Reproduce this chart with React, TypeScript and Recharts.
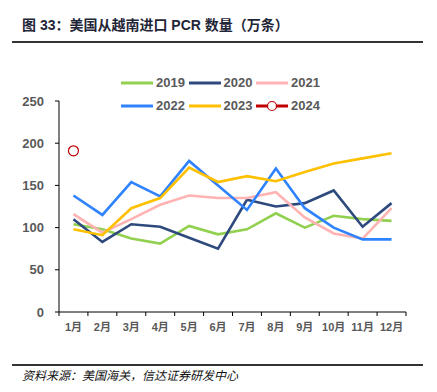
import React from 'react';
import { LineChart, Line, XAxis, YAxis } from 'recharts';

const months = ['1月', '2月', '3月', '4月', '5月', '6月', '7月', '8月', '9月', '10月', '11月', '12月'];
const s2019 = [104, 98, 87, 81, 102, 92, 98, 117, 100, 114, 110, 108];
const s2020 = [110, 83, 104, 101, 88, 75, 133, 125, 129, 144, 101, 129];
const s2021 = [116, 94, 110, 127, 138, 135, 135, 142, 112, 93, 87, 123];
const s2022 = [138, 115, 154, 137, 179, 150, 121, 170, 123, 100, 86, 86];
const s2023 = [98, 91, 123, 135, 171, 154, 161, 155, 166, 176, 182, 188];
const s2024 = [191, null, null, null, null, null, null, null, null, null, null, null];
const yTicks = [0, 50, 100, 150, 200, 250];

const seriesNames = ['2019', '2020', '2021', '2022', '2023', '2024'];
const seriesValues = [s2019, s2020, s2021, s2022, s2023, s2024];
const seriesColors = ['#92D050', '#2E4A7D', '#FFB3B3', '#2F83FF', '#FFC000', '#C00000'];

const data = months.map((m, i) => {
  const row: Record<string, any> = { month: m };
  seriesNames.forEach((n, k) => {
    row[n] = seriesValues[k][i];
  });
  return row;
});

const W = 437;
const H = 392;
const PLOT_LEFT = 59;
const PLOT_RIGHT = 406;
const BAND = (PLOT_RIGHT - PLOT_LEFT) / months.length;
const FONT = '"Liberation Sans", Arial, "Noto Sans CJK SC", sans-serif';
const GREY = '#595959';

const XTick = (props: any) => {
  const { x, y, payload, index } = props;
  const last = index === months.length - 1;
  return (
    <g>
      <line x1={x - BAND / 2} x2={x - BAND / 2} y1={y} y2={y + 4} stroke="#000" strokeWidth={1} />
      {last && <line x1={x + BAND / 2} x2={x + BAND / 2} y1={y} y2={y + 4} stroke="#000" strokeWidth={1} />}
      <text x={x} y={y + 19} textAnchor="middle" fontSize={11} fontWeight="bold" fill={GREY} fontFamily={FONT}>
        {payload.value}
      </text>
    </g>
  );
};

const legendRows = [
  [0, 1, 2],
  [3, 4, 5],
];

export default function App() {
  return (
    <div style={{ position: 'absolute', left: 0, top: 0, width: W, height: H, background: '#fff', fontFamily: FONT }}>
      <div
        style={{
          position: 'absolute',
          left: 22,
          top: 14,
          fontSize: 14,
          fontWeight: 'bold',
          color: '#1F2637',
          whiteSpace: 'nowrap',
          fontFamily: '"Liberation Sans", "Noto Sans CJK SC", sans-serif',
        }}
      >
        图 33：美国从越南进口 PCR 数量（万条）
      </div>
      <div style={{ position: 'absolute', left: 12, top: 41, width: 411, height: 1.5, background: '#333' }} />
      <div style={{ position: 'absolute', left: 12, top: 364, width: 411, height: 1.5, background: '#333' }} />
      <div
        style={{
          position: 'absolute',
          left: 22,
          top: 366,
          fontSize: 12,
          fontStyle: 'italic',
          color: '#111',
          whiteSpace: 'nowrap',
          fontFamily: '"Noto Sans CJK SC", sans-serif',
        }}
      >
        资料来源：美国海关，信达证券研发中心
      </div>
      <div style={{ position: 'absolute', left: 0, top: 0 }}>
        <LineChart width={W} height={H} data={data} margin={{ top: 101, right: W - PLOT_RIGHT, bottom: 50, left: 0 }}>
          <XAxis
            dataKey="month"
            interval={0}
            padding={{ left: BAND / 2, right: BAND / 2 }}
            tickLine={false}
            tickSize={0}
            tickMargin={0}
            height={30}
            axisLine={{ stroke: '#000', strokeWidth: 1 }}
            tick={<XTick />}
          />
          <YAxis
            width={PLOT_LEFT}
            domain={[0, 250]}
            ticks={yTicks}
            interval={0}
            tickSize={4}
            tickMargin={11}
            axisLine={{ stroke: '#000', strokeWidth: 1 }}
            tickLine={{ stroke: '#000', strokeWidth: 1 }}
            tick={{ fontSize: 13, fontWeight: 'bold', fill: GREY, fontFamily: FONT }}
          />
          {seriesNames.slice(0, 5).map((n, k) => (
            <Line
              key={n}
              dataKey={n}
              stroke={seriesColors[k]}
              strokeWidth={2.6}
              dot={false}
              activeDot={false}
              isAnimationActive={false}
            />
          ))}
          <Line
            dataKey="2024"
            stroke={seriesColors[5]}
            strokeWidth={2.6}
            dot={{ r: 5, stroke: seriesColors[5], strokeWidth: 1.2, fill: '#fff' }}
            activeDot={false}
            isAnimationActive={false}
          />
        </LineChart>
      </div>
      {legendRows.map((row, ri) => (
        <div key={ri} style={{ position: 'absolute', left: 121, top: 75 + ri * 23, display: 'flex', height: 16 }}>
          {row.map((k) => (
            <div key={k} style={{ display: 'flex', alignItems: 'center', width: 67.5 }}>
              <svg width={32} height={16} style={{ display: 'block' }}>
                <line x1={0} x2={32} y1={8} y2={8} stroke={seriesColors[k]} strokeWidth={3} />
                {k === 5 && <circle cx={16} cy={8} r={4.5} stroke={seriesColors[k]} strokeWidth={1.2} fill="#fff" />}
              </svg>
              <span style={{ marginLeft: 3, fontSize: 13, fontWeight: 'bold', color: GREY, lineHeight: '16px' }}>
                {seriesNames[k]}
              </span>
            </div>
          ))}
        </div>
      ))}
    </div>
  );
}
